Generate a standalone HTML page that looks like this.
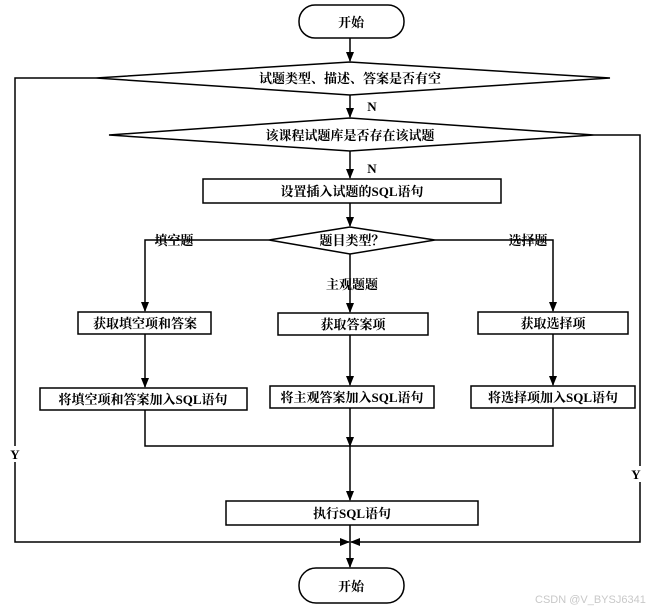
<!DOCTYPE html>
<html><head><meta charset="utf-8"><style>
html,body{margin:0;padding:0;background:#fff;}
svg text{font-family:"Liberation Serif","Noto Serif CJK SC","Noto Sans CJK SC",serif;font-weight:bold;font-size:13px;fill:#000;}
</style></head><body>
<svg width="648" height="610" viewBox="0 0 648 610" xmlns="http://www.w3.org/2000/svg">
<defs>
<marker id="a" markerWidth="10" markerHeight="10" refX="9" refY="5" orient="auto" markerUnits="userSpaceOnUse">
<path d="M0,1 L10,5 L0,9 Z" fill="#000"/></marker>
</defs>
<g stroke="#000" stroke-width="1.5" fill="none">
<rect x="299" y="5" width="105" height="33" rx="16" fill="#fff"/>
<line x1="350" y1="38" x2="350" y2="61" marker-end="url(#a)"/>
<polygon points="96,78 350,62 610,78 350,95" fill="#fff"/>
<line x1="350" y1="95" x2="350" y2="117" marker-end="url(#a)"/>
<polygon points="109,135 350,118 594,135 350,151" fill="#fff"/>
<line x1="350" y1="151" x2="350" y2="178" marker-end="url(#a)"/>
<rect x="203" y="179" width="298" height="24" fill="#fff"/>
<line x1="350" y1="203" x2="350" y2="226" marker-end="url(#a)"/>
<polygon points="269,240 350,227 435,240 350,254" fill="#fff"/>
<polyline points="269,240 145,240 145,311" marker-end="url(#a)"/>
<polyline points="435,240 553,240 553,311" marker-end="url(#a)"/>
<line x1="350" y1="254" x2="350" y2="312" marker-end="url(#a)"/>
<rect x="78" y="312" width="133" height="22" fill="#fff"/>
<rect x="278" y="313" width="150" height="22" fill="#fff"/>
<rect x="478" y="312" width="150" height="22" fill="#fff"/>
<line x1="145" y1="334" x2="145" y2="387" marker-end="url(#a)"/>
<line x1="350" y1="335" x2="350" y2="385" marker-end="url(#a)"/>
<line x1="553" y1="334" x2="553" y2="385" marker-end="url(#a)"/>
<rect x="40" y="388" width="207" height="22" fill="#fff"/>
<rect x="270" y="386" width="164" height="22" fill="#fff"/>
<rect x="471" y="386" width="164" height="22" fill="#fff"/>
<polyline points="145,410 145,446 553,446 553,408"/>
<line x1="350" y1="408" x2="350" y2="446" marker-end="url(#a)"/>
<line x1="350" y1="446" x2="350" y2="500" marker-end="url(#a)"/>
<rect x="226" y="501" width="252" height="24" fill="#fff"/>
<line x1="350" y1="525" x2="350" y2="567" marker-end="url(#a)"/>
<polyline points="96,78 15,78 15,542 349,542" marker-end="url(#a)"/>
<polyline points="594,135 640,135 640,542 351,542" marker-end="url(#a)"/>
<rect x="299" y="568" width="105" height="35" rx="17" fill="#fff"/>
</g>
<rect x="8" y="446" width="14" height="16" fill="#fff"/>
<rect x="629" y="466" width="14" height="16" fill="#fff"/>
<g text-anchor="middle">
<text x="351" y="27">开始</text>
<text x="350" y="83">试题类型、描述、答案是否有空</text>
<text x="350" y="140">该课程试题库是否存在该试题</text>
<text x="352" y="196">设置插入试题的SQL语句</text>
<text x="352" y="245">题目类型？</text>
<text x="174" y="245">填空题</text>
<text x="528" y="245">选择题</text>
<text x="352" y="289">主观题题</text>
<text x="145" y="328">获取填空项和答案</text>
<text x="353" y="329">获取答案项</text>
<text x="553" y="328">获取选择项</text>
<text x="143" y="404">将填空项和答案加入SQL语句</text>
<text x="352" y="402">将主观答案加入SQL语句</text>
<text x="553" y="402">将选择项加入SQL语句</text>
<text x="352" y="518">执行SQL语句</text>
<text x="351" y="591">开始</text>
<text x="372" y="111">N</text>
<text x="372" y="173">N</text>
<text x="15" y="459">Y</text>
<text x="636" y="479">Y</text>
</g>
<text x="535" y="603" style="font-family:'Liberation Sans',sans-serif;font-weight:normal;font-size:11px;fill:#c8c8c8">CSDN @V_BYSJ6341</text>
</svg>
</body></html>
